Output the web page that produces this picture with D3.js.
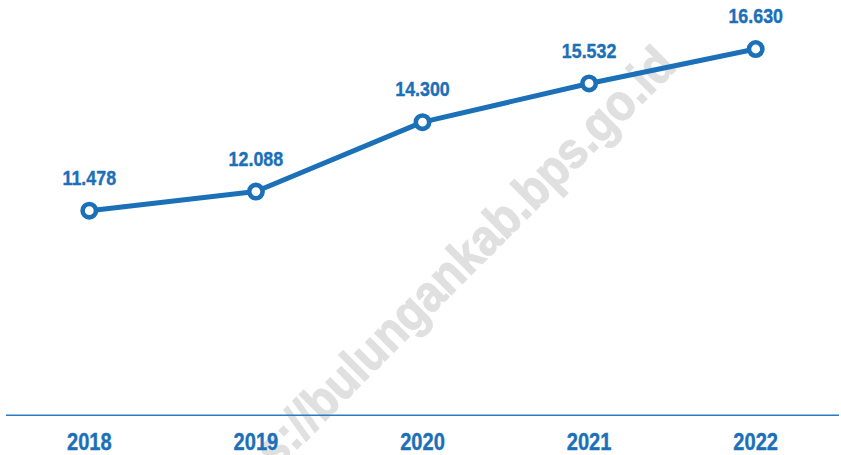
<!DOCTYPE html>
<html>
<head>
<meta charset="utf-8">
<script src="https://cdnjs.cloudflare.com/ajax/libs/d3/7.8.5/d3.min.js"></script>
<style>
  body { margin: 0; background: #fff; }
  svg { display: block; }
</style>
</head>
<body>
<script>
    // data
    var years = ["2018", "2019", "2020", "2021", "2022"];
    var values = [11478, 12088, 14300, 15532, 16630];
    var watermark = "https://bulungankab.bps.go.id";

    var width = 841;
    var height = 455;
    var blue = "#1b70b8";
    var font = "'Liberation Sans', Arial, sans-serif";

    var svg = d3.select("body")
        .append("svg")
        .attr("width", width)
        .attr("height", height);

    var x = d3.scalePoint()
        .domain(years)
        .range([89.3, 755.7]);

    var y = d3.scaleLinear()
        .domain([5000, 17000])
        .range([414, 37.4]);

    // indonesian number format (dot as thousands separator)
    var fmt = d3.formatLocale({ decimal: ",", thousands: ".", grouping: [3], currency: ["", ""] }).format(",");

    // watermark behind everything
    svg.append("text")
        .attr("transform", "translate(678,68) rotate(-45) scale(0.9,1)")
        .attr("text-anchor", "end")
        .style("font-family", "'Liberation Sans', Arial, sans-serif")
        .style("font-weight", "bold")
        .style("font-size", "51px")
        .style("fill", "#e0e0e0")
        .style("stroke", "#e0e0e0")
        .style("stroke-width", 1.2)
        .text(watermark);

    // baseline
    svg.append("line")
        .attr("x1", 6)
        .attr("x2", 839)
        .attr("y1", 415.3)
        .attr("y2", 415.3)
        .attr("stroke", "#2a7bc2")
        .attr("stroke-width", 1.6);

    var data = years.map(function(d, i) { return { year: d, value: values[i] }; });

    var line = d3.line()
        .x(function(d) { return x(d.year); })
        .y(function(d) { return y(d.value); });

    svg.append("path")
        .datum(data)
        .attr("d", line)
        .attr("fill", "none")
        .attr("stroke", blue)
        .attr("stroke-width", 5)
        .attr("stroke-linejoin", "round");

    svg.selectAll("circle.pt")
        .data(data)
        .enter()
        .append("circle")
        .attr("class", "pt")
        .attr("cx", function(d) { return x(d.year); })
        .attr("cy", function(d) { return y(d.value); })
        .attr("r", 6.7)
        .attr("fill", "#fff")
        .attr("stroke", blue)
        .attr("stroke-width", 4.6);

    // value labels (condensed look via horizontal scale)
    svg.selectAll("text.val")
        .data(data)
        .enter()
        .append("text")
        .attr("class", "val")
        .attr("transform", function(d) {
            return "translate(" + x(d.year) + "," + (y(d.value) - 25.8) + ") scale(0.85,1)";
        })
        .attr("text-anchor", "middle")
        .style("font-family", font)
        .style("font-weight", "bold")
        .style("font-size", "21px")
        .style("fill", blue)
        .style("stroke", blue)
        .style("stroke-width", 0.4)
        .text(function(d) { return fmt(d.value); });

    // year labels
    svg.selectAll("text.yr")
        .data(years)
        .enter()
        .append("text")
        .attr("class", "yr")
        .attr("transform", function(d) { return "translate(" + x(d) + ",450) scale(0.82,1)"; })
        .attr("text-anchor", "middle")
        .style("font-family", font)
        .style("font-weight", "bold")
        .style("font-size", "24.5px")
        .style("fill", blue)
        .style("stroke", blue)
        .style("stroke-width", 0.4)
        .text(function(d) { return d; });
</script>
</body>
</html>
